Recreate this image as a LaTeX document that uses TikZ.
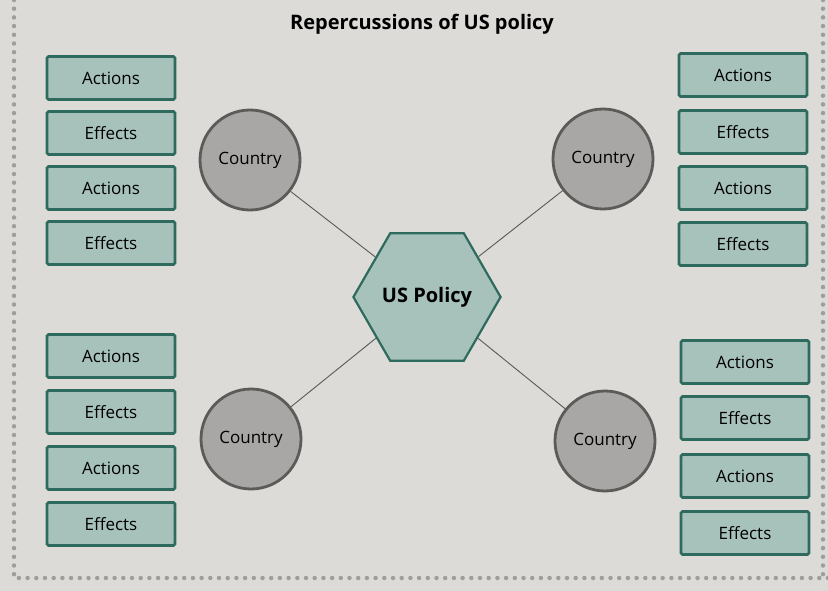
\documentclass[tikz,border=0pt]{standalone}
\usepackage{fontspec}
\setmainfont{Open Sans}
\usetikzlibrary{shapes.geometric}

\definecolor{paper}{HTML}{DCDBD7}
\definecolor{boxfill}{HTML}{A7C1BB}
\definecolor{boxline}{HTML}{2E6A5D}
\definecolor{ctyfill}{HTML}{A8A7A5}
\definecolor{ctyline}{HTML}{5C5B59}
\definecolor{dotgray}{HTML}{9E9E9C}

\begin{document}
\begin{tikzpicture}[x=1pt, y=-1pt,
	item/.style={draw=boxline, fill=boxfill, line width=2.6pt, rounded corners=1.5pt,
		minimum width=128pt, minimum height=43pt, inner sep=0pt,
		font=\fontsize{17}{20}\selectfont},
	country/.style={draw=ctyline, fill=ctyfill, circle, line width=2.8pt,
		minimum size=100pt, inner sep=0pt, font=\fontsize{17}{20}\selectfont},
	policy/.style={draw=boxline, fill=boxfill, regular polygon, regular polygon sides=6,
		line width=2.2pt, minimum size=120pt, inner sep=0pt,
		font=\fontsize{20}{24}\selectfont\bfseries},
	link/.style={draw=black!65, line width=0.9pt},
	border/.style={draw=dotgray, line width=4.5pt, line cap=round, dash pattern=on 0pt off 8.7pt}]
	\useasboundingbox[fill=paper] (0,0) rectangle (828,591);
	\draw[border] (14,0) -- (14,578) -- (828,578);
	\draw[border] (823,0) -- (823,578);

	\node (title) at (422,24) {\fontsize{20}{24}\selectfont\bfseries Repercussions of US policy};

	\node[policy] (us) at (427,297) {US Policy};

	\node[country] (c1) at (250,160) {Country};
	\node[country] (c2) at (603,159) {Country};
	\node[country] (c3) at (251,439) {Country};
	\node[country] (c4) at (605,441) {Country};

	\draw[link] (c1) -- (us);
	\draw[link] (c2) -- (us);
	\draw[link] (c3) -- (us);
	\draw[link] (c4) -- (us);

	% upper left
	\node[item] (a1) at (111,78) {Actions};
	\node[item] (e1) at (111,133) {Effects};
	\node[item] (a2) at (111,188) {Actions};
	\node[item] (e2) at (111,243) {Effects};

	% upper right
	\node[item] (a3) at (743,75) {Actions};
	\node[item] (e3) at (743,132) {Effects};
	\node[item] (a4) at (743,188) {Actions};
	\node[item] (e4) at (743,244) {Effects};

	% lower left
	\node[item] (a5) at (111,356) {Actions};
	\node[item] (e5) at (111,412) {Effects};
	\node[item] (a6) at (111,468) {Actions};
	\node[item] (e6) at (111,524) {Effects};

	% lower right
	\node[item] (a7) at (745,362) {Actions};
	\node[item] (e7) at (745,418) {Effects};
	\node[item] (a8) at (745,476) {Actions};
	\node[item] (e8) at (745,533) {Effects};
\end{tikzpicture}
\end{document}
